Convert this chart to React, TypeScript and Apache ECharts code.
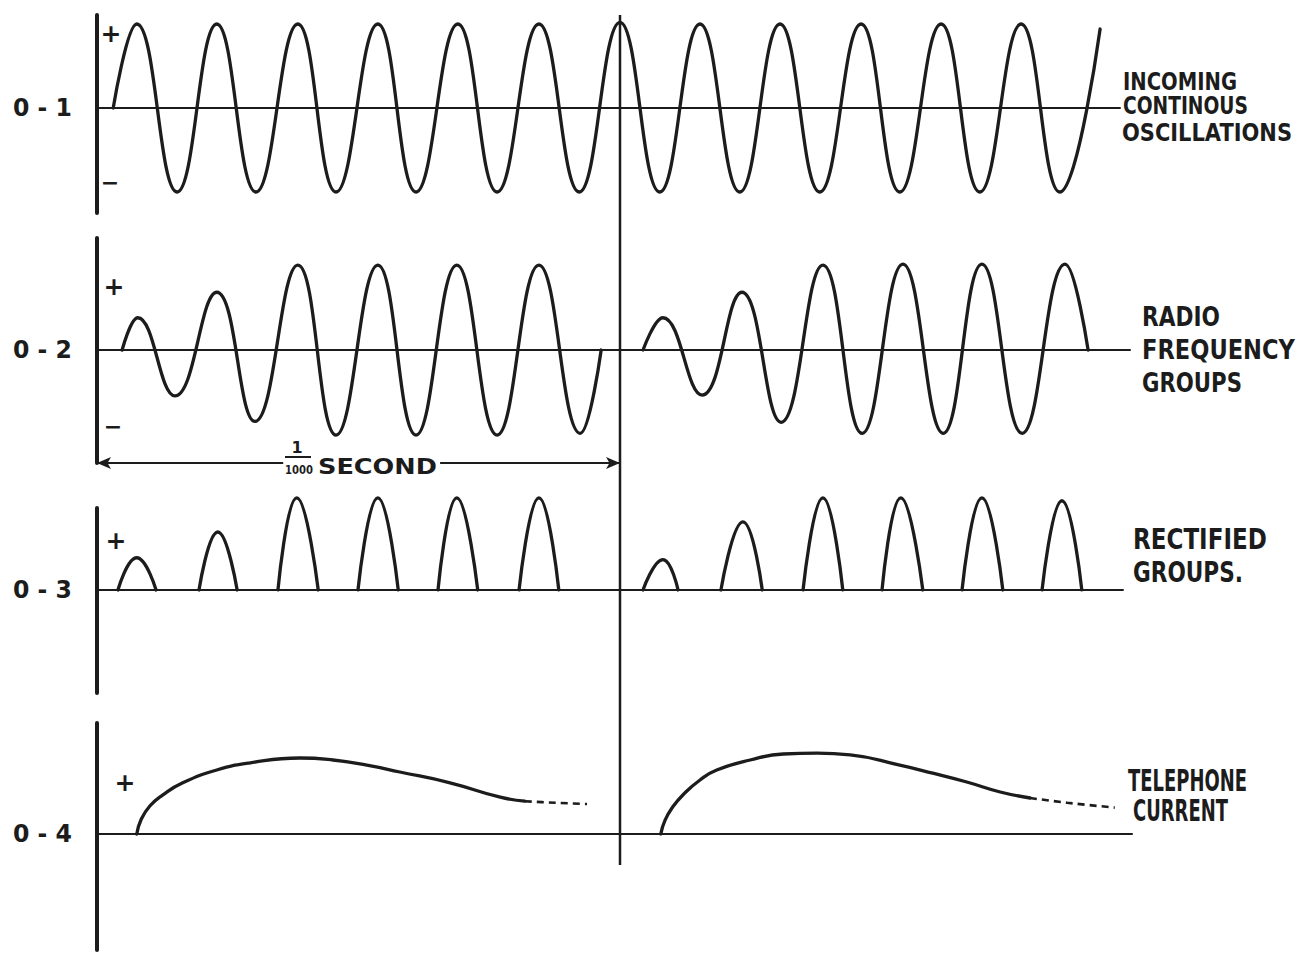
import React, { useEffect, useRef } from "react";
import * as echarts from "echarts";

// ---------- data (time in ms: 0 = left axis, 1 = the 1/1000 second line) ----------

// 0-1 incoming continuous oscillations: start, crests and troughs, end
const oscTime = [0.031, 0.076, 0.153, 0.229, 0.304, 0.384, 0.457, 0.537, 0.61, 0.69, 0.765, 0.845, 0.922, 1.0, 1.076, 1.153, 1.229, 1.306, 1.382, 1.461, 1.535, 1.614, 1.688, 1.767, 1.841, 1.918];
const oscValue = [0, 1, -1, 1, -1, 1, -1, 1, -1, 1, -1, 1, -1, 1.02, -1, 1, -1, 1, -1, 1, -1, 1, -1, 1, -1, 0.94];

// 0-2 radio frequency groups: start, crests and troughs, end
const rf1Time = [0.048, 0.078, 0.149, 0.229, 0.302, 0.384, 0.457, 0.537, 0.61, 0.688, 0.765, 0.845, 0.924, 0.964];
const rf1Value = [0, 0.38, -0.54, 0.68, -0.84, 1, -1, 1, -1, 1, -1, 1, -0.98, 0];
const rf2Time = [1.044, 1.082, 1.157, 1.233, 1.308, 1.388, 1.463, 1.541, 1.618, 1.692, 1.769, 1.851, 1.895];
const rf2Value = [0, 0.38, -0.53, 0.68, -0.85, 1, -0.98, 1.01, -0.98, 1.01, -0.98, 1.01, 0];

// 0-3 rectified groups (one hump each)
const humpStart = [0.04, 0.195, 0.346, 0.499, 0.652, 0.807, 1.044, 1.193, 1.35, 1.501, 1.654, 1.807];
const humpPeak = [0.076, 0.231, 0.382, 0.537, 0.688, 0.845, 1.082, 1.235, 1.388, 1.537, 1.692, 1.845];
const humpEnd = [0.113, 0.268, 0.423, 0.576, 0.728, 0.883, 1.111, 1.272, 1.426, 1.579, 1.732, 1.883];
const humpHeight = [0.35, 0.63, 1, 1, 1, 1, 0.33, 0.74, 1, 1, 1, 0.97];

// 0-4 telephone current
const tel1Time = [0.076, 0.084, 0.101, 0.126, 0.164, 0.229, 0.293, 0.388, 0.451, 0.516, 0.579, 0.675, 0.771, 0.818];
const tel1Value = [0, 0.175, 0.35, 0.49, 0.64, 0.8, 0.89, 0.95, 0.925, 0.86, 0.775, 0.64, 0.46, 0.41];
const tel1DashTime = [0.818, 0.876, 0.937];
const tel1DashValue = [0.41, 0.39, 0.375];
const tel2Time = [1.078, 1.086, 1.101, 1.122, 1.153, 1.185, 1.249, 1.312, 1.377, 1.44, 1.535, 1.598, 1.663, 1.727, 1.784];
const tel2Value = [0, 0.17, 0.34, 0.5, 0.675, 0.8, 0.925, 1.0, 1.01, 0.99, 0.86, 0.76, 0.65, 0.525, 0.45];
const tel2DashTime = [1.784, 1.855, 1.946];
const tel2DashValue = [0.45, 0.39, 0.33];

// the 1/1000 second marker
const markerTime = 1.0;
const spanLeftEnd = 0.356;
const spanRightStart = 0.656;

const panelNames = ["0 - 1", "0 - 2", "0 - 3", "0 - 4"];

// ---------- layout / style ----------
const INK = "#1c1c1c";
const FONT = "DejaVu Sans";
const PX_PER_MS = 523;
const LEFT = 97;

// panels: top, height, right end of baseline, y range
const panels = [
  { top: 15, height: 198, end: 1120, min: -1.25, max: 1.107 },
  { top: 238, height: 225, end: 1130, min: -1.329, max: 1.318 },
  { top: 508, height: 185, end: 1123, min: -1.12, max: 0.891 },
  { top: 723, height: 227, end: 1132, min: -1.45, max: 1.3875 },
];
const baselines = [108, 350, 590, 834];

const rightLabels = [
  { text: "INCOMING", x: 1123, y: 81, w: 114, size: 25 },
  { text: "CONTINOUS", x: 1123, y: 106, w: 125, size: 25 },
  { text: "OSCILLATIONS", x: 1122, y: 132, w: 170, size: 25 },
  { text: "RADIO", x: 1142, y: 317, w: 78, size: 27 },
  { text: "FREQUENCY", x: 1142, y: 350, w: 153, size: 27 },
  { text: "GROUPS", x: 1142, y: 383, w: 100, size: 27 },
  { text: "RECTIFIED", x: 1133, y: 539, w: 134, size: 29 },
  { text: "GROUPS.", x: 1133, y: 572, w: 110, size: 29 },
  { text: "TELEPHONE", x: 1128, y: 781, w: 119, size: 30 },
  { text: "CURRENT", x: 1133, y: 811, w: 95, size: 30 },
];
const signs = [
  { text: "+", x: 111, y: 33, size: 25 },
  { text: "\u2212", x: 110, y: 182, size: 22 },
  { text: "+", x: 114, y: 286, size: 25 },
  { text: "\u2212", x: 113, y: 426, size: 22 },
  { text: "+", x: 116, y: 540, size: 25 },
  { text: "+", x: 125, y: 782, size: 25 },
];

const zip = (t: number[], v: number[]) => t.map((x, i) => [x, v[i]]);

let measureCtx: CanvasRenderingContext2D | null = null;
function textWidth(text: string, size: number) {
  if (!measureCtx) measureCtx = document.createElement("canvas").getContext("2d");
  measureCtx!.font = `bold ${size}px "${FONT}"`;
  return measureCtx!.measureText(text).width;
}

function txt(text: string, x: number, y: number, size: number, opts: any = {}) {
  const { w, align = "left" } = opts;
  const scaleX = w ? w / textWidth(text, size) : 1;
  return {
    type: "text",
    x,
    y,
    scaleX,
    silent: true,
    style: {
      text,
      fill: INK,
      fontSize: size,
      fontWeight: "bold",
      fontFamily: FONT,
      align,
      verticalAlign: "middle",
    },
  };
}

function lineSeries(data: number[][], idx: number, extra: any = {}) {
  return {
    type: "line",
    xAxisIndex: idx,
    yAxisIndex: idx,
    data,
    symbol: "none",
    showSymbol: false,
    smooth: 0.5,
    silent: true,
    clip: false,
    lineStyle: { color: INK, width: 3.3, cap: "round", join: "round" },
    ...extra,
  };
}

export default function App() {
  const ref = useRef<HTMLDivElement>(null);

  useEffect(() => {
    const el = ref.current!;
    const chart = echarts.init(el, null, { renderer: "svg" });

    const overlayEnd = 1132;
    const overlayTop = 15;
    const overlayBottom = 865;
    const arrowY = (overlayBottom - 463) / (overlayBottom - overlayTop);

    const grids: any[] = panels.map((p) => ({
      left: LEFT,
      top: p.top,
      width: p.end - LEFT,
      height: p.height,
      outerBoundsMode: "none",
      containLabel: false,
    }));
    grids.push({
      left: LEFT,
      top: overlayTop,
      width: overlayEnd - LEFT,
      height: overlayBottom - overlayTop,
      outerBoundsMode: "none",
      containLabel: false,
    });

    const xAxes: any[] = panels.map((p, i) => ({
      gridIndex: i,
      type: "value",
      min: 0,
      max: (p.end - LEFT) / PX_PER_MS,
      axisLine: { show: true, onZero: true, lineStyle: { color: INK, width: 2 } },
      axisTick: { show: false },
      axisLabel: { show: false },
      splitLine: { show: false },
    }));
    xAxes.push({
      gridIndex: 4,
      type: "value",
      min: 0,
      max: (overlayEnd - LEFT) / PX_PER_MS,
      show: false,
    });

    const yAxes: any[] = panels.map((p, i) => ({
      gridIndex: i,
      type: "value",
      min: p.min,
      max: p.max,
      axisLine: { show: true, onZero: false, lineStyle: { color: INK, width: 4 } },
      axisTick: { show: false },
      axisLabel: { show: false },
      splitLine: { show: false },
    }));
    yAxes.push({ gridIndex: 4, type: "value", min: 0, max: 1, show: false });

    const series: any[] = [];
    series.push(lineSeries(zip(oscTime, oscValue), 0, { smooth: 0.45 }));
    series.push(lineSeries(zip(rf1Time, rf1Value), 1, { smooth: 0.45 }));
    series.push(lineSeries(zip(rf2Time, rf2Value), 1, { smooth: 0.45 }));
    humpStart.forEach((s, i) => {
      series.push(
        lineSeries(
          [
            [s, 0],
            [humpPeak[i], humpHeight[i]],
            [humpEnd[i], 0],
          ],
          2
        )
      );
    });
    series.push(lineSeries(zip(tel1Time, tel1Value), 3));
    series.push(
      lineSeries(zip(tel1DashTime, tel1DashValue), 3, {
        smooth: 0.3,
        lineStyle: { color: INK, width: 2.6, type: [7, 5] },
      })
    );
    series.push(lineSeries(zip(tel2Time, tel2Value), 3));
    series.push(
      lineSeries(zip(tel2DashTime, tel2DashValue), 3, {
        smooth: 0.3,
        lineStyle: { color: INK, width: 2.6, type: [7, 5] },
      })
    );
    // vertical 1/1000 second line and the span arrow
    series.push({
      type: "line",
      xAxisIndex: 4,
      yAxisIndex: 4,
      data: [
        [markerTime, 0],
        [markerTime, 1],
      ],
      symbol: "none",
      silent: true,
      lineStyle: { color: INK, width: 2.5 },
      markLine: {
        silent: true,
        symbolSize: [9, 14],
        label: { show: false },
        lineStyle: { color: INK, width: 2, type: "solid" },
        emphasis: { disabled: true },
        data: [
          [
            { coord: [0, arrowY], symbol: "arrow" },
            { coord: [spanLeftEnd, arrowY], symbol: "none" },
          ],
          [
            { coord: [spanRightStart, arrowY], symbol: "none" },
            { coord: [markerTime, arrowY], symbol: "arrow" },
          ],
        ],
      },
    });

    const graphic: any[] = [];
    panelNames.forEach((n, i) => graphic.push(txt(n, 13, baselines[i], 24, { w: 59 })));
    signs.forEach((s) => graphic.push(txt(s.text, s.x, s.y, s.size, { align: "center" })));
    rightLabels.forEach((l) => graphic.push(txt(l.text, l.x, l.y, l.size, { w: l.w })));
    // 1/1000 SECOND
    graphic.push(txt("1", 297, 447, 16, { align: "center" }));
    graphic.push({
      type: "line",
      silent: true,
      shape: { x1: 285, y1: 457, x2: 311, y2: 457 },
      style: { stroke: INK, lineWidth: 2 },
    });
    graphic.push(txt("1000", 285, 470, 13, { w: 28 }));
    graphic.push(txt("SECOND", 318, 467, 22, { w: 119 }));

    chart.setOption({
      animation: false,
      backgroundColor: "#ffffff",
      grid: grids,
      xAxis: xAxes,
      yAxis: yAxes,
      series,
      graphic,
    });

    return () => chart.dispose();
  }, []);

  return (
    <div
      ref={ref}
      style={{ position: "absolute", left: 0, top: 0, width: 1298, height: 956, background: "#fff" }}
    />
  );
}
